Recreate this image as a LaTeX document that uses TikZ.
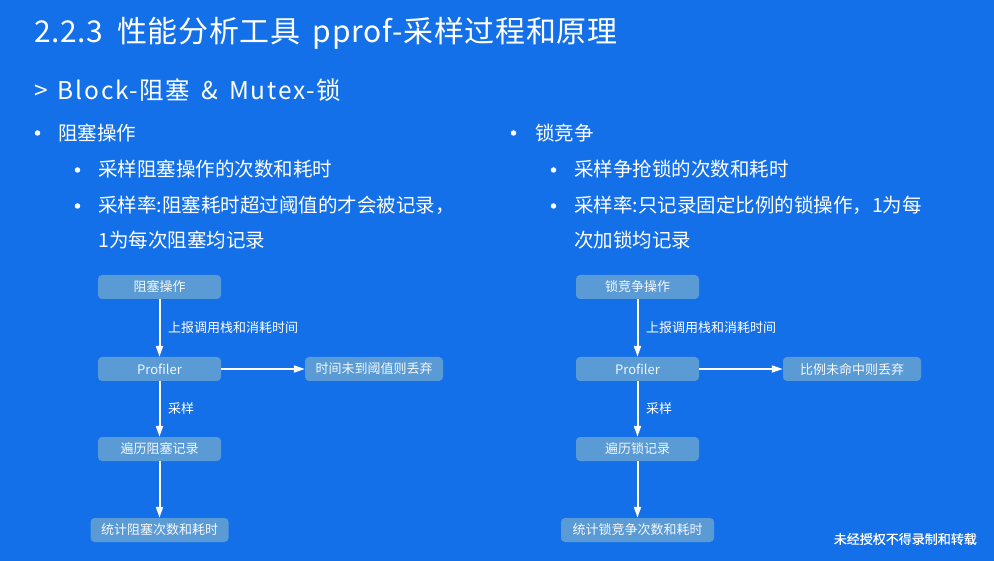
\documentclass[tikz,border=0pt]{standalone}
\usepackage{fontspec}
\setmainfont{Noto Sans CJK SC}
\newfontfamily\titlefont[LetterSpace=2.3]{Noto Sans CJK SC}
\newfontfamily\subfont[LetterSpace=7]{Noto Sans CJK SC}
\newfontfamily\footfont[FakeBold=0.5]{Noto Sans CJK SC}
\usetikzlibrary{arrows.meta}
\definecolor{bg}{HTML}{1470E8}
\definecolor{boxc}{HTML}{5B9BD5}
\begin{document}
\begin{tikzpicture}[x=1pt,y=-1pt,
  box/.style={fill=boxc, rounded corners=4pt, text=white!92!boxc, font=\fontsize{13}{13}\selectfont, inner sep=0pt, minimum height=24pt},
  lbl/.style={anchor=west, text=white, font=\fontsize{13}{13}\selectfont, inner sep=0pt},
  txt/.style={anchor=west, text=white, font=\fontsize{19.5}{19.5}\selectfont, inner sep=0pt},
  dot/.style={circle, fill=white, inner sep=0pt, minimum size=5.5pt},
  arr/.style={draw=white, line width=2pt, -{Triangle[length=11pt,width=7pt]}}]
\fill[bg] (0,0) rectangle (994,561);
\useasboundingbox (0,0) rectangle (994,561);
% title
\node[anchor=west, text=white, inner sep=0pt, font=\titlefont\fontsize{30}{30}\selectfont] (title) at (34,33) {2.2.3\hspace{6pt} 性能分析工具\hspace{5pt} pprof-采样过程和原理};
\node[anchor=west, text=white, inner sep=0pt, font=\subfont\fontsize{24.5}{24.5}\selectfont] (sub) at (34,90) {>\hspace{3pt} Block-阻塞\hspace{4pt} \&\hspace{4pt} Mutex-锁};
% left bullets
\node[dot] (lb1) at (37.5,133) {};
\node[txt] (lt1) at (58,133) {阻塞操作};
\node[dot] (lb2) at (77.5,170) {};
\node[txt] (lt2) at (98,169) {采样阻塞操作的次数和耗时};
\node[dot] (lb3) at (77.5,206) {};
\node[txt] (lt3) at (98,205) {采样率:阻塞耗时超过阈值的才会被记录，};
\node[txt] (lt4) at (98,240) {1为每次阻塞均记录};
% right bullets
\node[dot] (rb1) at (513.5,133) {};
\node[txt] (rt1) at (535,133) {锁竞争};
\node[dot] (rb2) at (553.5,170) {};
\node[txt] (rt2) at (574,169) {采样争抢锁的次数和耗时};
\node[dot] (rb3) at (553.5,206) {};
\node[txt] (rt3) at (574,205) {采样率:只记录固定比例的锁操作，1为每};
\node[txt] (rt4) at (574,240) {次加锁均记录};
% left flow
\node[box, minimum width=123pt] (la) at (159.5,287) {阻塞操作};
\node[box, minimum width=123pt] (lp) at (159.5,369) {Profiler};
\node[box, minimum width=138pt] (ld) at (374,369) {时间未到阈值则丢弃};
\node[box, minimum width=123pt] (lr) at (159.5,449) {遍历阻塞记录};
\node[box, minimum width=138pt] (ls) at (159.5,530) {统计阻塞次数和耗时};
\draw[arr] (la) -- (lp);
\draw[arr] (lp) -- (ld);
\draw[arr] (lp) -- (lr);
\draw[arr] (lr) -- (ls);
\node[lbl] (ll1) at (168,328) {上报调用栈和消耗时间};
\node[lbl] (ll2) at (168,409) {采样};
% right flow
\node[box, minimum width=123pt] (ra) at (637.5,287) {锁竞争操作};
\node[box, minimum width=123pt] (rp) at (637.5,369) {Profiler};
\node[box, minimum width=138pt] (rd) at (852,369) {比例未命中则丢弃};
\node[box, minimum width=123pt] (rr) at (637.5,449) {遍历锁记录};
\node[box, minimum width=153pt] (rs) at (637.5,530) {统计锁竞争次数和耗时};
\draw[arr] (ra) -- (rp);
\draw[arr] (rp) -- (rd);
\draw[arr] (rp) -- (rr);
\draw[arr] (rr) -- (rs);
\node[lbl] (rl1) at (646,328) {上报调用栈和消耗时间};
\node[lbl] (rl2) at (646,409) {采样};
% footer
\node[anchor=east, text=white, inner sep=0pt, font=\footfont\fontsize{13}{13}\selectfont] (foot) at (977,539) {未经授权不得录制和转载};
\end{tikzpicture}
\end{document}
